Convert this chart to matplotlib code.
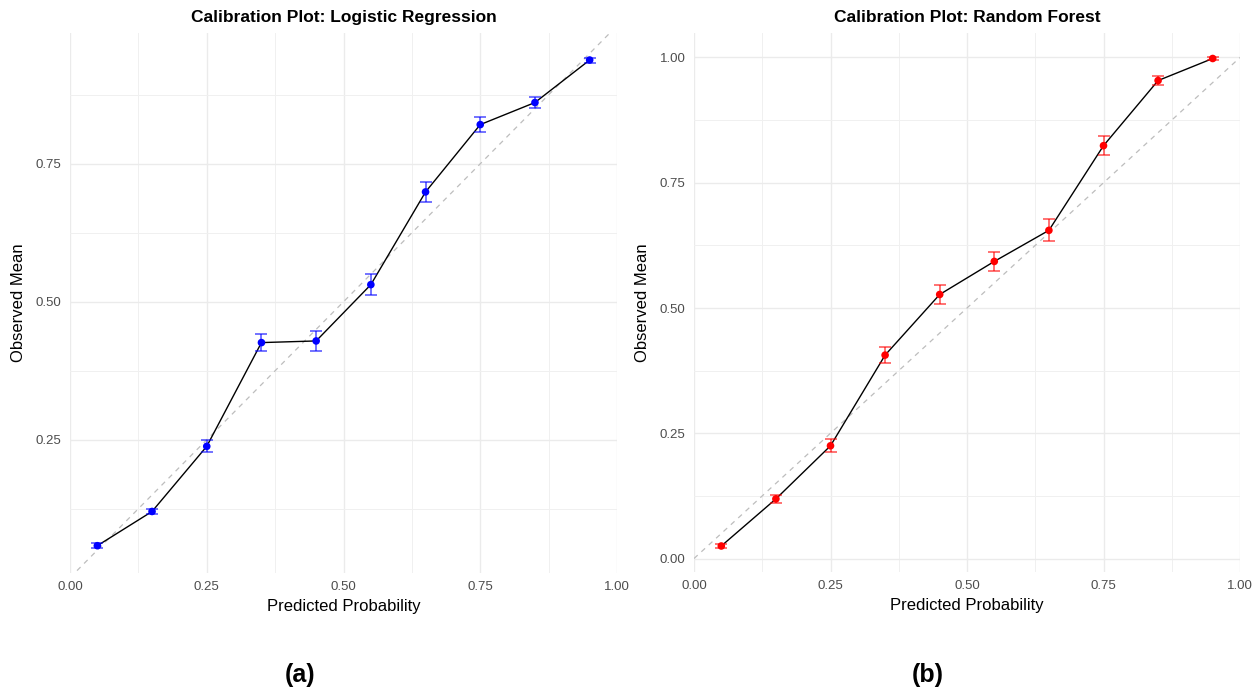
import matplotlib.pyplot as plt
import numpy as np

plt.rcParams['font.family'] = ['Liberation Sans', 'DejaVu Sans']

# bin centres of predicted probability
bins = [0.05, 0.15, 0.25, 0.35, 0.45, 0.55, 0.65, 0.75, 0.85, 0.95]

# logistic regression: observed mean and half-width of error bar
lr_mean = [0.058, 0.120, 0.238, 0.426, 0.429, 0.531, 0.699, 0.821, 0.861, 0.938]
lr_err = [0.005, 0.005, 0.011, 0.016, 0.0175, 0.019, 0.018, 0.014, 0.010, 0.0045]

# random forest
rf_mean = [0.025, 0.119, 0.225, 0.406, 0.527, 0.593, 0.655, 0.824, 0.954, 0.998]
rf_err = [0.003, 0.008, 0.0126, 0.0156, 0.0186, 0.0195, 0.0219, 0.0189, 0.009, 0.002]

titles = ["Calibration Plot: Logistic Regression", "Calibration Plot: Random Forest"]
colors = ["#0000FF", "#FF0000"]
panel_tags = ["(a)", "(b)"]


def calib_panel(ax, mean, err, color, title):
    mean = np.array(mean)
    err = np.array(err)
    lo = (mean - err).min()
    hi = (mean + err).max()
    pad = (hi - lo) * 0.05

    ax.set_xlim(0, 1)
    ax.set_ylim(lo - pad, hi + pad)

    ax.set_xticks([0, 0.25, 0.5, 0.75, 1.0])
    ax.set_xticks([0.125, 0.375, 0.625, 0.875], minor=True)
    yt = [t for t in [0, 0.25, 0.5, 0.75, 1.0] if lo - pad <= t <= hi + pad]
    ax.set_yticks(yt)
    ax.set_yticks([t for t in [0.125, 0.375, 0.625, 0.875] if lo - pad <= t <= hi + pad], minor=True)
    ax.xaxis.set_major_formatter(plt.FormatStrFormatter('%.2f'))
    ax.yaxis.set_major_formatter(plt.FormatStrFormatter('%.2f'))

    ax.grid(which='major', color='#EBEBEB', lw=1.0)
    ax.grid(which='minor', color='#F0F0F0', lw=0.7)
    ax.set_axisbelow(True)
    for s in ax.spines.values():
        s.set_visible(False)
    ax.tick_params(which='both', length=0, labelsize=9.5, labelcolor='#4D4D4D', pad=6)

    ax.plot([0, 1], [0, 1], ls=(0, (4, 4)), color='#BDBDBD', lw=0.9, zorder=1)
    ax.plot(bins, mean, color='black', lw=1.0, zorder=2)
    ax.errorbar(bins, mean, yerr=err, fmt='none', ecolor=color, alpha=0.7,
                elinewidth=1.1, capsize=4, capthick=1.1, zorder=3)
    ax.scatter(bins, mean, s=30, color=color, zorder=4, edgecolors='none')

    ax.set_title(title, fontsize=12.5, fontweight='bold', pad=8)
    ax.set_xlabel("Predicted Probability", fontsize=12, labelpad=4)
    ax.set_ylabel("Observed Mean", fontsize=12, labelpad=7)


fig = plt.figure(figsize=(12.6, 6.92), dpi=100)
ax1 = fig.add_axes([70 / 1260, 1 - 573 / 692, 547 / 1260, 540 / 692])
ax2 = fig.add_axes([694 / 1260, 1 - 572 / 692, 546 / 1260, 539 / 692])

calib_panel(ax1, lr_mean, lr_err, colors[0], titles[0])
calib_panel(ax2, rf_mean, rf_err, colors[1], titles[1])

fig.text(300 / 1260, 1 - 675 / 692, panel_tags[0], ha='center', va='center',
         fontsize=18, fontweight='bold')
fig.text(928 / 1260, 1 - 675 / 692, panel_tags[1], ha='center', va='center',
         fontsize=18, fontweight='bold')

fig.savefig("out.png", dpi=100)
